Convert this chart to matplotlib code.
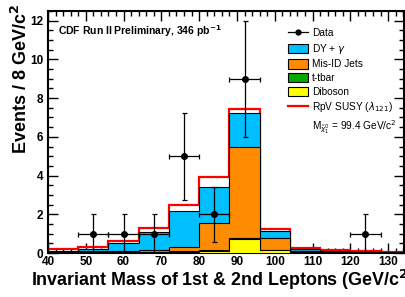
import numpy as np
import matplotlib.pyplot as plt
from matplotlib.lines import Line2D
from matplotlib.patches import Patch

plt.rcParams['font.family'] = ['Liberation Sans', 'DejaVu Sans']

# bin edges (GeV/c^2), 8 GeV bins
edges = np.arange(40, 137, 8)

# background components per bin (events)
diboson = [0.01, 0.01, 0.02, 0.03, 0.05, 0.10, 0.74, 0.15, 0.05, 0.02, 0.01, 0.01]
ttbar = [0.03, 0.03, 0.03, 0.03, 0.03, 0.03, 0.03, 0.02, 0.03, 0.03, 0.02, 0.01]
misid = [0.03, 0.04, 0.05, 0.09, 0.22, 1.44, 4.70, 0.62, 0.04, 0.02, 0.01, 0.01]
dy = [0.05, 0.15, 0.40, 0.95, 1.89, 1.86, 1.75, 0.35, 0.07, 0.03, 0.02, 0.01]
# RpV SUSY signal on top of the background
signal = [0.08, 0.10, 0.14, 0.18, 0.29, 0.47, 0.23, 0.12, 0.09, 0.06, 0.04, 0.03]

# data points
data_x = [52, 60, 68, 76, 84, 92, 124]
data_y = [1, 1, 1, 5, 2, 9, 1]
data_yerr = [1, 1, 1, 2.24, 1.41, 3.0, 1]
data_xerr = 4

c_dy = '#00bfff'
c_misid = '#ff8c00'
c_tt = '#00aa00'
c_dib = '#ffff00'

fig = plt.figure(figsize=(4.06, 2.97), dpi=100)
ax = fig.add_axes([48 / 406, 44 / 297, 356 / 406, 242 / 297])

s1 = np.array(diboson)
s2 = s1 + np.array(ttbar)
s3 = s2 + np.array(misid)
s4 = s3 + np.array(dy)
s5 = s4 + np.array(signal)

ax.stairs(s5, edges, color='red', lw=1.6, baseline=0, zorder=2)
for top, col in [(s4, c_dy), (s3, c_misid), (s2, c_tt), (s1, c_dib)]:
    ax.stairs(top, edges, fill=True, facecolor=col, edgecolor='black',
              lw=0.8, zorder=3)

ax.errorbar(data_x, data_y, xerr=data_xerr, yerr=data_yerr, fmt='o',
            color='black', ms=4, lw=0.9, capsize=1.8, capthick=0.9, zorder=5)

ax.set_xlim(40, 134.2)
ax.set_ylim(0, 12.5)
ax.set_xticks(np.arange(40, 131, 10))
ax.set_xticks(np.arange(40, 135, 2), minor=True)
ax.set_yticks(np.arange(0, 13, 2))
ax.set_yticks(np.arange(0, 12.6, 0.5), minor=True)
ax.tick_params(which='both', direction='in', top=True, right=True,
               labelsize=8.5, width=1)
ax.tick_params(which='major', length=7)
ax.tick_params(which='minor', length=3.5)
ax.tick_params(axis='x', pad=2)
for lab in ax.get_xticklabels() + ax.get_yticklabels():
    lab.set_fontweight('bold')
for sp in ax.spines.values():
    sp.set_linewidth(1.5)

fig.text(31 / 406, 17 / 297, 'Invariant Mass of 1st & 2nd Leptons (GeV/c$^{\\mathbf{2}}$)',
         fontsize=12.9, fontweight='bold', ha='left', va='center')
fig.text(21 / 406, 1 - 4 / 297, 'Events / 8 GeV/c$^{\\mathbf{2}}$', rotation=90,
         fontsize=13, fontweight='bold', ha='center', va='top')

ax.text(0.028, 0.915, 'CDF Run II Preliminary, 346 pb$^{\\mathbf{-1}}$',
        transform=ax.transAxes, fontsize=7.5, fontweight='bold', va='center')

handles = [
    Line2D([], [], color='black', marker='o', ms=3.5, lw=0.9),
    Patch(facecolor=c_dy, edgecolor='black', lw=0.8),
    Patch(facecolor=c_misid, edgecolor='black', lw=0.8),
    Patch(facecolor=c_tt, edgecolor='black', lw=0.8),
    Patch(facecolor=c_dib, edgecolor='black', lw=0.8),
    Line2D([], [], color='red', lw=1.6),
    Line2D([], [], color='none'),
]
labels = ['Data', 'DY + $\\gamma$', 'Mis-ID Jets', 't-tbar', 'Diboson',
          'RpV SUSY ($\\lambda_{121}$)',
          'M$_{\\tilde{\\chi}_1^0}$ = 99.4 GeV/c$^2$']
ax.legend(handles, labels, loc='upper left', bbox_to_anchor=(0.66, 0.95),
          frameon=False, fontsize=7.3, handlelength=2.0, handleheight=1.0,
          handletextpad=0.4, labelspacing=0.36, borderpad=0)

fig.savefig('out.png', dpi=100)
